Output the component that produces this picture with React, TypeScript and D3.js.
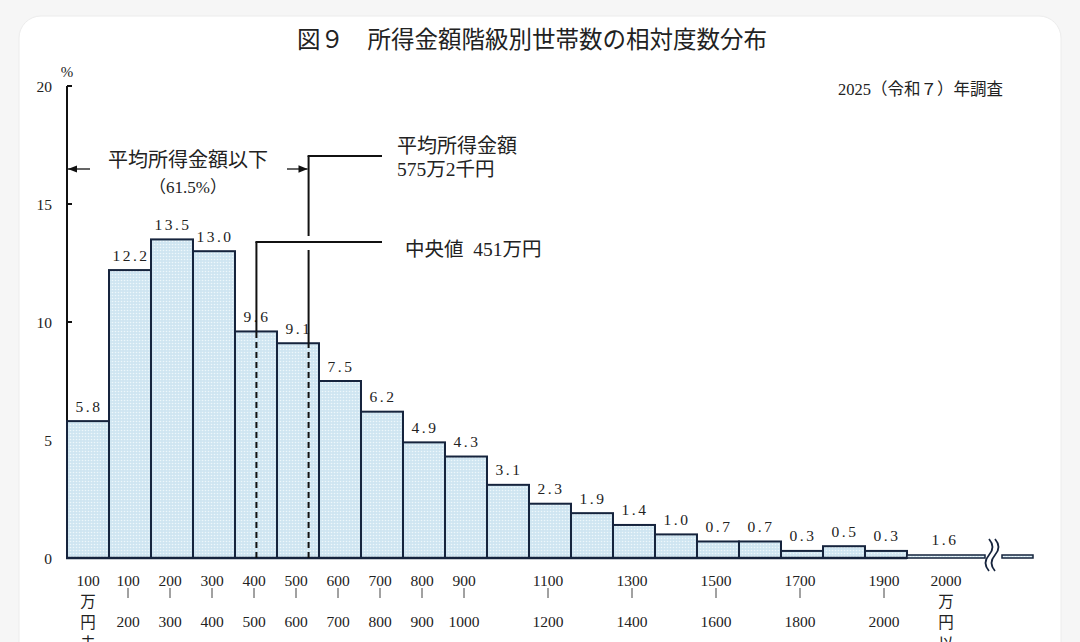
import React from "react";
import * as d3 from "d3";

const lowerBounds = [0, 100, 200, 300, 400, 500, 600, 700, 800, 900, 1000, 1100, 1200, 1300, 1400, 1500, 1600, 1700, 1800, 1900];
const values = [5.8, 12.2, 13.5, 13.0, 9.6, 9.1, 7.5, 6.2, 4.9, 4.3, 3.1, 2.3, 1.9, 1.4, 1.0, 0.7, 0.7, 0.3, 0.5, 0.3];
const valueLabels = ["5.8", "12.2", "13.5", "13.0", "9.6", "9.1", "7.5", "6.2", "4.9", "4.3", "3.1", "2.3", "1.9", "1.4", "1.0", "0.7", "0.7", "0.3", "0.5", "0.3"];
const overValue = 1.6;
const overLabel = "1.6";
const labeledBars = [1, 2, 3, 4, 5, 6, 7, 8, 9, 11, 13, 15, 17, 19];
const firstLabelLines = ["100", "万", "円", "未"];
const lastLabelLines = ["2000", "万", "円", "以"];
const yTicks = [0, 5, 10, 15, 20];
const medianValue = 451;
const meanValue = 575.2;

const title = "図９　所得金額階級別世帯数の相対度数分布";
const survey = "2025（令和７）年調査";
const belowMeanLabel = "平均所得金額以下";
const belowMeanPct = "（61.5%）";
const meanLabel1 = "平均所得金額";
const meanLabel2 = "575万2千円";
const medianLabel = "中央値  451万円";

const FONT = "'Liberation Serif', 'Noto Sans CJK JP', serif";
const NAVY = "#16243d";

export default function App() {
  const x = d3.scaleLinear().domain([0, 2000]).range([67, 907]);
  const y = d3.scaleLinear().domain([0, 20]).range([558, 86]);
  const bw = x(100) - x(0);
  const xMed = x(medianValue);
  const xMean = x(meanValue);
  const medBarTop = y(values[Math.floor(medianValue / 100)]);
  const meanBarTop = y(values[Math.floor(meanValue / 100)]);
  const medY = 242;
  const meanY = 156;
  const lineEnd = 382;
  const segEnd1 = 985;
  const segStart2 = 1002;
  const segEnd2 = 1033;
  const overH = 3;

  const breakPath = (bx: number) =>
    `M${bx},539 Q${bx + 7},547 ${bx},555 Q${bx - 7},563 ${bx},571`;

  return (
    <div style={{ position: "absolute", left: 0, top: 0 }}>
      <svg width={1080} height={642} style={{ display: "block" }} fontFamily={FONT}>
        <defs>
          <pattern id="dots" width="3" height="3" patternUnits="userSpaceOnUse">
            <rect width="3" height="3" fill="#cfe5f1" />
            <circle cx="1.5" cy="1.5" r="0.8" fill="#eef7fb" />
          </pattern>
          <marker id="arr" viewBox="0 0 10 10" refX="10" refY="5" markerWidth="7" markerHeight="7" orient="auto">
            <path d="M0,1 L10,5 L0,9 Z" fill="#111" />
          </marker>
        </defs>
        <rect width={1080} height={642} fill="#f6f6f6" />
        <rect x={19} y={16} width={1042} height={700} rx={22} fill="#ffffff" stroke="#ececec" />

        <text x={532} y={40} textAnchor="middle" dominantBaseline="central" fontSize={23.5} fill="#222">{title}</text>
        <text x={1003} y={89} textAnchor="end" dominantBaseline="central" fontSize={16.5} fill="#222">{survey}</text>

        {/* y axis */}
        <text x={67} y={72} textAnchor="middle" dominantBaseline="central" fontSize={15} fill="#222">%</text>
        <line x1={x(0)} x2={x(0)} y1={y(20)} y2={y(0)} stroke="#111" strokeWidth={2} />
        {yTicks.map((t) => (
          <g key={t}>
            <text x={52} y={y(t)} textAnchor="end" dominantBaseline="central" fontSize={15.5} fill="#222">{t}</text>
            {t > 0 && <line x1={x(0)} x2={x(0) + 5} y1={y(t)} y2={y(t)} stroke="#111" strokeWidth={2} />}
          </g>
        ))}

        {/* bars */}
        {values.map((v, i) => (
          <rect key={i} x={x(lowerBounds[i])} y={y(v)} width={bw} height={y(0) - y(v)} fill="url(#dots)" stroke={NAVY} strokeWidth={2} />
        ))}
        {/* 2000+ truncated segment */}
        <rect x={x(2000)} y={y(0) - overH} width={segEnd1 - x(2000)} height={overH} fill="url(#dots)" stroke={NAVY} strokeWidth={1.5} />
        <rect x={segStart2} y={y(0) - overH} width={segEnd2 - segStart2} height={overH} fill="url(#dots)" stroke={NAVY} strokeWidth={1.5} />
        <path d={breakPath(989)} fill="none" stroke={NAVY} strokeWidth={1.8} />
        <path d={breakPath(995)} fill="none" stroke={NAVY} strokeWidth={1.8} />
        <line x1={x(0) - 1} x2={x(2000)} y1={y(0)} y2={y(0)} stroke={NAVY} strokeWidth={2.5} />

        {/* value labels */}
        {values.map((v, i) => (
          <text key={i} x={x(lowerBounds[i]) + bw / 2 + 1} y={y(v) - 15} textAnchor="middle" dominantBaseline="central" fontSize={15.5} letterSpacing={2.5} fill="#222">{valueLabels[i]}</text>
        ))}
        <text x={945} y={539} textAnchor="middle" dominantBaseline="central" fontSize={15.5} letterSpacing={2.5} fill="#222">{overLabel}</text>

        {/* median & mean lines */}
        <line x1={xMed} x2={xMed} y1={y(0)} y2={medBarTop} stroke="#111" strokeWidth={2} strokeDasharray="6,4" />
        <line x1={xMed} x2={xMed} y1={medBarTop} y2={medY} stroke="#111" strokeWidth={2} />
        <line x1={xMed - 1} x2={lineEnd} y1={medY} y2={medY} stroke="#111" strokeWidth={2} />
        <line x1={xMean} x2={xMean} y1={y(0)} y2={meanBarTop} stroke="#111" strokeWidth={2} strokeDasharray="6,4" />
        <line x1={xMean} x2={xMean} y1={meanBarTop} y2={medY + 8} stroke="#111" strokeWidth={2} />
        <line x1={xMean} x2={xMean} y1={medY - 6} y2={meanY} stroke="#111" strokeWidth={2} />
        <line x1={xMean - 1} x2={lineEnd} y1={meanY} y2={meanY} stroke="#111" strokeWidth={2} />

        <text x={397} y={146} dominantBaseline="central" fontSize={20} fill="#222">{meanLabel1}</text>
        <text x={397} y={169} dominantBaseline="central" fontSize={19.5} fill="#222">{meanLabel2}</text>
        <text x={405} y={249} dominantBaseline="central" fontSize={19.5} fill="#222" style={{ whiteSpace: "pre" }}>{medianLabel}</text>

        {/* below-mean annotation */}
        <line x1={90} x2={x(0) + 1} y1={169} y2={169} stroke="#111" strokeWidth={1.3} markerEnd="url(#arr)" />
        <line x1={287} x2={xMean - 1} y1={169} y2={169} stroke="#111" strokeWidth={1.3} markerEnd="url(#arr)" />
        <text x={188} y={160} textAnchor="middle" dominantBaseline="central" fontSize={20} fill="#222">{belowMeanLabel}</text>
        <text x={188} y={187} textAnchor="middle" dominantBaseline="central" fontSize={17} fill="#222">{belowMeanPct}</text>

        {/* x labels */}
        {firstLabelLines.map((s, k) => (
          <text key={"f" + k} x={x(0) + bw / 2} y={580 + k * 21} textAnchor="middle" dominantBaseline="central" fontSize={15.5} fill="#222">{s}</text>
        ))}
        {labeledBars.map((i) => {
          const cx = x(lowerBounds[i]) + bw / 2 - 2;
          return (
            <g key={"l" + i}>
              <text x={cx} y={580} textAnchor="middle" dominantBaseline="central" fontSize={15.5} fill="#222">{lowerBounds[i]}</text>
              <line x1={cx} x2={cx} y1={588} y2={598} stroke="#444" strokeWidth={1} />
              <text x={cx} y={621} textAnchor="middle" dominantBaseline="central" fontSize={15.5} fill="#222">{lowerBounds[i] + 100}</text>
            </g>
          );
        })}
        {lastLabelLines.map((s, k) => (
          <text key={"e" + k} x={946} y={580 + k * 21} textAnchor="middle" dominantBaseline="central" fontSize={15.5} fill="#222">{s}</text>
        ))}
      </svg>
    </div>
  );
}
